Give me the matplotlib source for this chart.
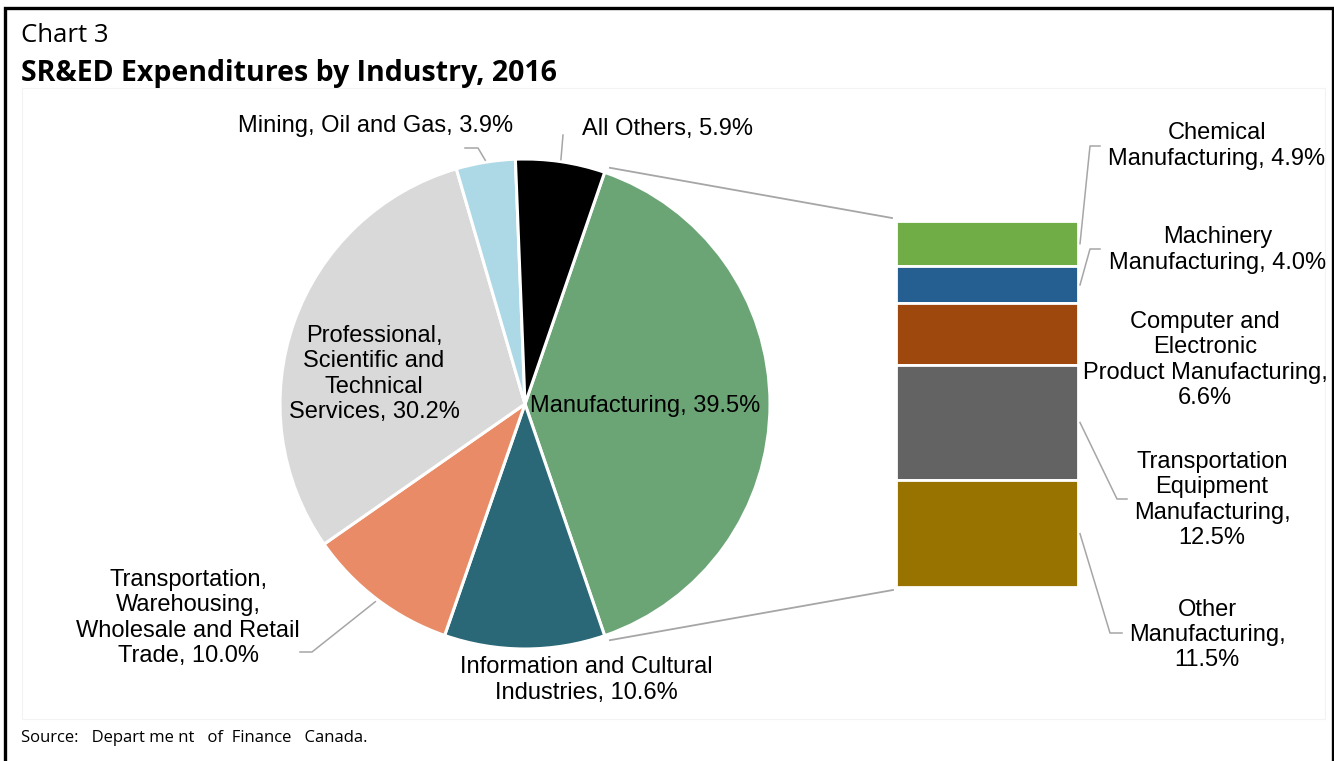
import numpy as np
import matplotlib.pyplot as plt
from matplotlib.patches import Rectangle

W, H = 1334, 761

# Main pie: share of SR&ED expenditures by industry (%)
pie_names = [
    "Manufacturing, {v}",
    "Information and Cultural\nIndustries, {v}",
    "Transportation,\nWarehousing,\nWholesale and Retail\nTrade, {v}",
    "Professional,\nScientific and\nTechnical\nServices, {v}",
    "Mining, Oil and Gas, {v}",
    "All Others, {v}",
]
pie_values = [39.5, 10.6, 10.0, 30.2, 3.9, 5.9]
pie_colors = ["#6BA576", "#2A6877", "#E88B66", "#D9D9D9", "#ADD8E6", "#000000"]

# Breakdown of Manufacturing (% of total)
bar_names = [
    "Chemical\nManufacturing, {v}",
    "Machinery\nManufacturing, {v}",
    "Computer and\nElectronic\nProduct Manufacturing,\n{v}",
    "Transportation\nEquipment\nManufacturing,\n{v}",
    "Other\nManufacturing,\n{v}",
]
bar_values = [4.9, 4.0, 6.6, 12.5, 11.5]
bar_colors = ["#70AD47", "#255E91", "#9E480E", "#636363", "#997300"]

TEXT_FONT = ["Liberation Sans", "DejaVu Sans"]
TITLE_FONT = ["Open Sans", "DejaVu Sans"]
LEADER = "#A6A6A6"
FS = 17
LS = 1.2


def Y(yp):
    """Convert a top-down pixel row into the axes' bottom-up units."""
    return H - yp


fig = plt.figure(figsize=(W / 100, H / 100), dpi=100)
ax = fig.add_axes([0, 0, 1, 1])

# ---- pie -------------------------------------------------------------------
cx, cy, R = 525, Y(404), 245
start = 180.0 * pie_values[0] / sum(pie_values)   # centre Manufacturing at 3 o'clock
wedges, _ = ax.pie(
    pie_values, colors=pie_colors, startangle=start, counterclock=False,
    center=(cx, cy), radius=R,
    wedgeprops=dict(edgecolor="white", linewidth=2.2),
)
ax.set_xlim(0, W)
ax.set_ylim(0, H)
ax.set_aspect("equal")
ax.axis("off")


def fmt(template, v):
    return template.format(v=f"{v:.1f}%")


def polar(angle_deg, r):
    a = np.deg2rad(angle_deg)
    return cx + r * np.cos(a), cy + r * np.sin(a)


pie_label_pos = [(645, 406), (586, 680), (188, 618), (374, 374), (376, 126), (667, 129)]
for name, v, (px, py) in zip(pie_names, pie_values, pie_label_pos):
    ax.text(px, Y(py), fmt(name, v), ha="center", va="center", fontsize=FS,
            family=TEXT_FONT, color="#000000", linespacing=LS)

# leaders for outside pie labels
mid = lambda w: 0.5 * (w.theta1 + w.theta2)
x0, y0 = polar(mid(wedges[4]), R + 2)
ax.plot([x0, 478, 465], [y0, Y(148), Y(148)], color=LEADER, lw=1.1)
x0, y0 = polar(mid(wedges[5]), R + 2)
ax.plot([x0, 563], [y0, Y(135)], color=LEADER, lw=1.1)
x0, y0 = polar(mid(wedges[2]), R + 3)
ax.plot([x0, 312, 300], [y0, Y(652), Y(652)], color=LEADER, lw=1.1)

# ---- stacked bar of the Manufacturing breakdown -------------------------------
bar_left, bar_right = 896, 1078
bar_top = Y(221)
scale = (587 - 221) / sum(bar_values)
heights = np.array(bar_values) * scale
bottoms = bar_top - np.cumsum(heights)
bars = ax.bar((bar_left + bar_right) / 2, heights, bottom=bottoms,
              width=bar_right - bar_left, color=bar_colors,
              edgecolor="white", linewidth=2.0)

# connector lines between the Manufacturing wedge and the bar
man = wedges[0]
x0, y0 = polar(man.theta2 - 0.8, R + 6)
ax.plot([x0, bar_left - 4], [y0, bar_top + 3], color=LEADER, lw=1.3)
x0, y0 = polar(man.theta1 + 0.8, R + 6)
ax.plot([x0, bar_left - 3], [y0, bottoms[-1] - 3], color=LEADER, lw=1.3)

bar_label_pos = [(1217, 146), (1218, 250), (1205, 360), (1212, 500), (1207, 635)]
for name, v, (px, py) in zip(bar_names, bar_values, bar_label_pos):
    ax.text(px, Y(py), fmt(name, v), ha="center", va="center", fontsize=FS,
            family=TEXT_FONT, color="#000000", linespacing=LS)

# leaders from bar segments to their labels
seg_mid = bottoms + heights / 2
elbows = {0: [(1090, 146), (1100, 146)],
          1: [(1090, 249), (1100, 249)],
          3: [(1117, 499), (1127, 499)],
          4: [(1110, 633), (1122, 633)]}
for i, pts in elbows.items():
    xs = [bar_right + 2] + [p[0] for p in pts]
    ys = [seg_mid[i]] + [Y(p[1]) for p in pts]
    ax.plot(xs, ys, color=LEADER, lw=1.1)

# ---- titles, source and frames ---------------------------------------------
ax.text(21, Y(35), "Chart 3", ha="left", va="center", fontsize=18.5,
        family=TITLE_FONT)
ax.text(21, Y(73), "SR&ED Expenditures by Industry, 2016", ha="left",
        va="center", fontsize=20.5, fontweight="bold", family=TITLE_FONT)
ax.text(21, Y(738), "Source:   Depart me nt   of  Finance   Canada.",
        ha="left", va="center", fontsize=12, family=TITLE_FONT)

ax.add_patch(Rectangle((22, Y(719)), 1325 - 22, 719 - 88, fill=False,
                       edgecolor="#F3F3F3", lw=0.8))
ax.plot([4.5, 4.5, 1332.5, 1332.5], [-5, Y(8.3), Y(8.3), -5],
        color="black", lw=2.4, solid_joinstyle="miter", clip_on=False)

fig.savefig("out.png", dpi=100)
